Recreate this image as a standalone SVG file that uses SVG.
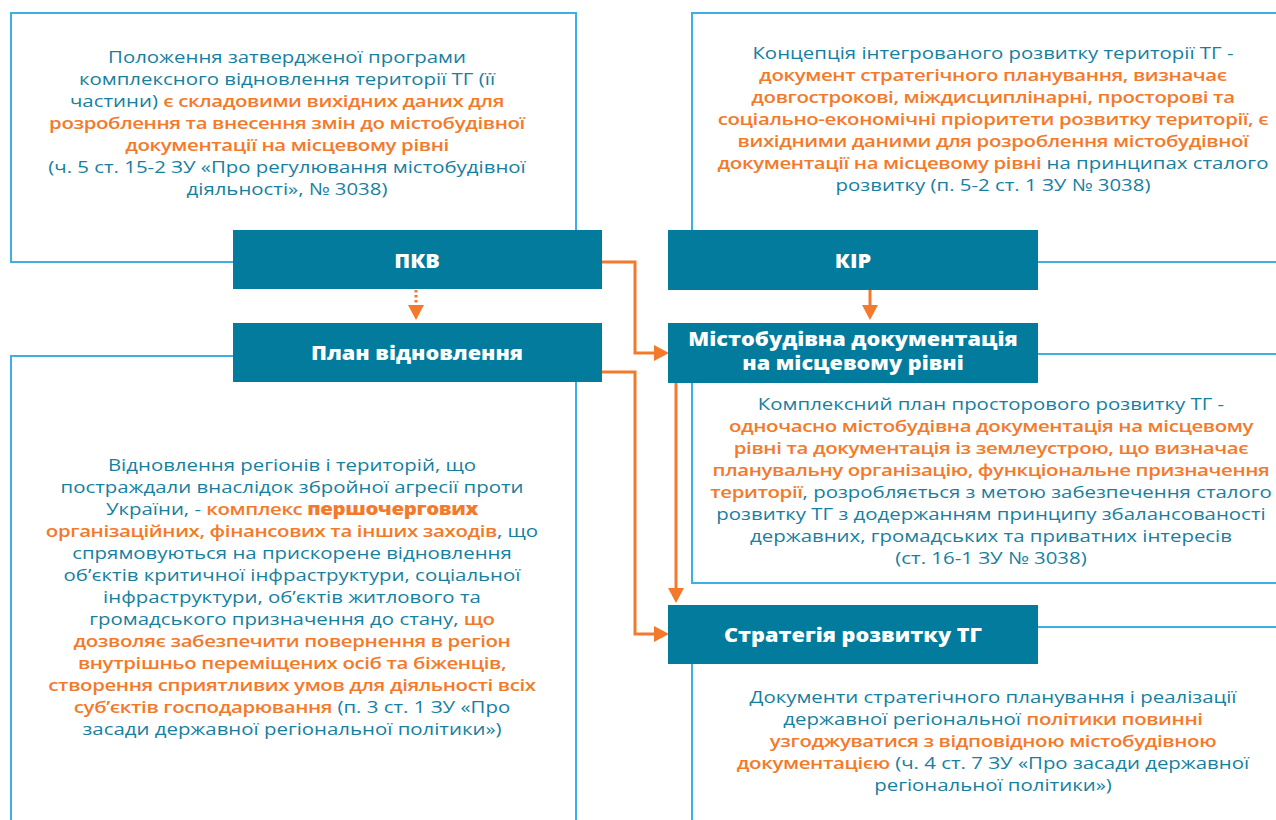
<svg xmlns="http://www.w3.org/2000/svg" width="1276" height="820" viewBox="0 0 1276 820">
<style>
.frame{fill:none;stroke:#3db0e3;stroke-width:2}
.hdr{fill:#027b9d}
.ht{font-family:"Open Sans","Noto Sans",sans-serif;font-size:19px;font-weight:800;fill:#ffffff;text-anchor:middle}
.t{font-family:"Open Sans","Noto Sans",sans-serif;font-size:17px;fill:#17809f;text-anchor:middle}
.o{fill:#f47a2b;font-weight:600;letter-spacing:-0.3px}
.ob{fill:#f47a2b;font-weight:800;letter-spacing:-0.3px}
.c{fill:none;stroke:#f47a2b;stroke-width:3}
</style>
<defs>
<marker id="ah" markerUnits="userSpaceOnUse" markerWidth="15" markerHeight="16" refX="0" refY="8" orient="auto" viewBox="0 0 15 16">
<path d="M0,0 L15,8 L0,16 z" fill="#f47a2b"/>
</marker>
</defs>

<g id="box-pkv-text">
<rect class="frame" x="11" y="13" width="565" height="249"/>
<g transform="matrix(1.2,0,0,1,-57.4,0)">
<text class="t" x="287" y="63">Положення затвердженої програми</text>
<text class="t" x="287" y="85">комплексного відновлення території ТГ (її</text>
<text class="t" x="287" y="107">частини) <tspan class="o">є складовими вихідних даних для</tspan></text>
<text class="t" x="287" y="129"><tspan class="o">розроблення та внесення змін до містобудівної</tspan></text>
<text class="t" x="287" y="151"><tspan class="o">документації на місцевому рівні</tspan></text>
<text class="t" x="287" y="173">(ч. 5 ст. 15-2 ЗУ «Про регулювання містобудівної</text>
<text class="t" x="287" y="195">діяльності», № 3038)</text>
</g>
</g>

<g id="box-kir-text">
<rect class="frame" x="692" y="13" width="620" height="249"/>
<g transform="matrix(1.2,0,0,1,-198.6,0)">
<text class="t" x="993" y="59">Концепція інтегрованого розвитку території ТГ -</text>
<text class="t" x="993" y="81"><tspan class="o">документ стратегічного планування, визначає</tspan></text>
<text class="t" x="993" y="103"><tspan class="o">довгострокові, міждисциплінарні, просторові та</tspan></text>
<text class="t" x="993" y="125"><tspan class="o">соціально-економічні пріоритети розвитку території, є</tspan></text>
<text class="t" x="993" y="147"><tspan class="o">вихідними даними для розроблення містобудівної</tspan></text>
<text class="t" x="993" y="169"><tspan class="o">документації на місцевому рівні</tspan> на принципах сталого</text>
<text class="t" x="993" y="191">розвитку (п. 5-2 ст. 1 ЗУ № 3038)</text>
</g>
</g>

<g id="box-kppr-text">
<rect class="frame" x="692" y="354" width="620" height="229"/>
<g transform="matrix(1.2,0,0,1,-198.2,0)">
<text class="t" x="991" y="410">Комплексний план просторового розвитку ТГ -</text>
<text class="t" x="991" y="432"><tspan class="o">одночасно містобудівна документація на місцевому</tspan></text>
<text class="t" x="991" y="454"><tspan class="o">рівні та документація із землеустрою, що визначає</tspan></text>
<text class="t" x="991" y="476"><tspan class="o">планувальну організацію, функціональне призначення</tspan></text>
<text class="t" x="991" y="498"><tspan class="o">території</tspan>, розробляється з метою забезпечення сталого</text>
<text class="t" x="991" y="520">розвитку ТГ з додержанням принципу збалансованості</text>
<text class="t" x="991" y="542">державних, громадських та приватних інтересів</text>
<text class="t" x="991" y="564">(ст. 16-1 ЗУ № 3038)</text>
</g>
</g>

<g id="box-plan-text">
<rect class="frame" x="11" y="356" width="565" height="520"/>
<g transform="matrix(1.2,0,0,1,-58.4,0)">
<text class="t" x="292" y="471">Відновлення регіонів і територій, що</text>
<text class="t" x="292" y="493">постраждали внаслідок збройної агресії проти</text>
<text class="t" x="292" y="515">України, - <tspan class="o">комплекс </tspan><tspan class="ob">першочергових</tspan></text>
<text class="t" x="292" y="537"><tspan class="o">організаційних, фінансових та інших заходів</tspan>, що</text>
<text class="t" x="292" y="559">спрямовуються на прискорене відновлення</text>
<text class="t" x="292" y="581">об’єктів критичної інфраструктури, соціальної</text>
<text class="t" x="292" y="603">інфраструктури, об’єктів житлового та</text>
<text class="t" x="292" y="625">громадського призначення до стану, <tspan class="o">що</tspan></text>
<text class="t" x="292" y="647"><tspan class="o">дозволяє забезпечити повернення в регіон</tspan></text>
<text class="t" x="292" y="669"><tspan class="o">внутрішньо переміщених осіб та біженців,</tspan></text>
<text class="t" x="292" y="691"><tspan class="o">створення сприятливих умов для діяльності всіх</tspan></text>
<text class="t" x="292" y="713"><tspan class="o">суб’єктів господарювання</tspan> (п. 3 ст. 1 ЗУ «Про</text>
<text class="t" x="292" y="735">засади державної регіональної політики»)</text>
</g>
</g>

<g id="box-strategy-text">
<rect class="frame" x="692" y="627" width="620" height="260"/>
<g transform="matrix(1.2,0,0,1,-198.6,0)">
<text class="t" x="993" y="703">Документи стратегічного планування і реалізації</text>
<text class="t" x="993" y="725">державної регіональної  <tspan class="o">політики повинні</tspan></text>
<text class="t" x="993" y="747"><tspan class="o">узгоджуватися з відповідною містобудівною</tspan></text>
<text class="t" x="993" y="769"><tspan class="o">документацією</tspan> (ч. 4 ст. 7 ЗУ «Про засади державної</text>
<text class="t" x="993" y="791">регіональної політики»)</text>
</g>
</g>

<g id="connectors">
<path class="c" d="M416,290 V305" stroke-dasharray="2.5 2.5" marker-end="url(#ah)"/>
<path class="c" d="M602,262 H635 V353 H654" marker-end="url(#ah)"/>
<path class="c" d="M602,372 H635 V634 H654" marker-end="url(#ah)"/>
<path class="c" d="M870,290 V305" marker-end="url(#ah)"/>
<path class="c" d="M676,383 V588" marker-end="url(#ah)"/>
</g>

<g id="node-pkv">
<rect class="hdr" x="233" y="230" width="369" height="59"/>
<text class="ht" x="417" y="268" transform="matrix(1.14,0,0,1,-58.4,0)">ПКВ</text>
</g>
<g id="node-kir">
<rect class="hdr" x="668" y="230" width="370" height="60"/>
<text class="ht" x="853" y="268" transform="matrix(1.14,0,0,1,-119.4,0)">КІР</text>
</g>
<g id="node-plan">
<rect class="hdr" x="233" y="323" width="369" height="59"/>
<text class="ht" x="417" y="360" transform="matrix(1.14,0,0,1,-58.4,0)">План відновлення</text>
</g>
<g id="node-mbd">
<rect class="hdr" x="668" y="323" width="370" height="60"/>
<text class="ht" x="853" y="346" transform="matrix(1.14,0,0,1,-119.4,0)">Містобудівна документація</text>
<text class="ht" x="853" y="370" transform="matrix(1.14,0,0,1,-119.4,0)">на місцевому рівні</text>
</g>
<g id="node-strategy">
<rect class="hdr" x="668" y="605" width="370" height="59"/>
<text class="ht" x="853" y="642" transform="matrix(1.14,0,0,1,-119.4,0)">Стратегія розвитку ТГ</text>
</g>
</svg>
